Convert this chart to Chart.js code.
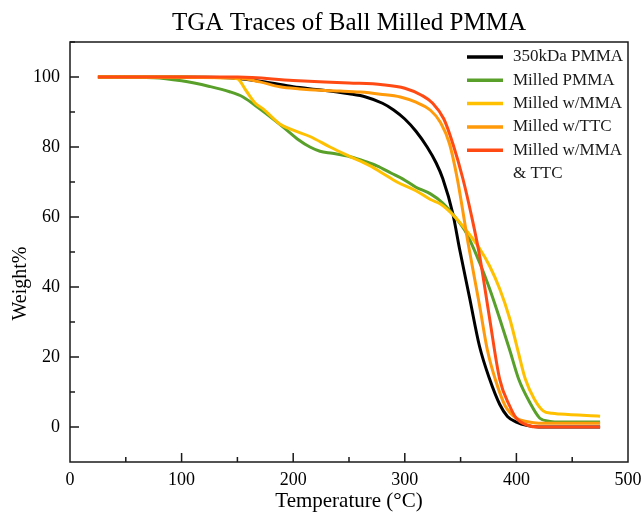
<!DOCTYPE html>
<html>
<head>
<meta charset="utf-8">
<script src="https://cdn.jsdelivr.net/npm/chart.js@4.4.1/dist/chart.umd.min.js"></script>
<style>
  html,body{margin:0;padding:0;background:#fff;}
  #wrap{width:642px;height:512px;}
</style>
</head>
<body>
<div id="wrap"><canvas id="tga" width="642" height="512"></canvas></div>
<script>
/* TGA traces */
const SERIES_LABELS = ["350kDa PMMA","Milled PMMA","Milled w/MMA","Milled w/TTC",["Milled w/MMA","& TTC"]];
const SERIES_COLORS = ["#000000","#58a02a","#ffc000","#ff9a0a","#ff4a14"];

const tBlack = [25,100,150,175,200,225,250,265,280,290,300,310,320,328,334,343,349,358,367,376,385,392,400,410,420,475];
const wBlack = [100,100,99.6,98.6,97.2,96.3,95.2,94.3,92.5,90.6,88,84.5,80,75.5,71,61,51,37,23,13.7,6.5,3,1.4,0.4,0,0];

const tGreen = [25,75,100,125,143,155,170,191,205,215,224,235,251,265,275,288,298,310,323,334,345,355,367,376,385,394,402,412,421,430,440,475];
const wGreen = [100,99.8,98.9,97.3,95.8,94.3,90.9,85.7,82,80,78.8,78.2,77.2,75.8,74.6,72.5,70.9,68.5,66.6,64,60,55.5,47,39.5,31,22,13.7,7,2.5,1.6,1.4,1.4];

const tYellow = [25,100,140,150,158,166,173,188,200,215,233,250,269,280,293,310,323,332,345,358,367,376,385,394,402,408,416,424,432,439,475];
const wYellow = [100,100,99.8,99.5,96,92.5,90.9,86.6,84.8,83,80,77.4,74.6,72.5,70,67.5,65,63.7,60,55,51,46,39.5,31,21,13.7,8,4.6,3.9,3.7,3.1];

const tOrange = [25,150,170,188,206,224,242,260,278,296,310,323,332,340,347,357,367,374,381,390,400,410,420,475];
const wOrange = [100,99.7,98.6,97.2,96.6,96.2,96,95.7,95.1,94.3,92.8,90.5,87,81,71,52,34.7,22,13.7,6,2.5,1.5,1.1,1.1];

const tRed = [25,150,200,250,280,300,315,325,335,343,352,360,367,376,385,394,400,410,420,475];
const wRed = [100,100,99,98.3,97.8,96.8,94.8,92.5,88,81,71,60,49,31,13.7,6,2.5,0.5,0,0];

const X_TICKS = [0,100,200,300,400,500];
const Y_TICKS = [0,20,40,60,80,100];

const SERIF = "'Liberation Serif','DejaVu Serif',serif";
const pairs = (t,w)=>t.map((x,i)=>({x:x,y:w[i]}));
const allT = [tBlack,tGreen,tYellow,tOrange,tRed];
const allW = [wBlack,wGreen,wYellow,wOrange,wRed];

/* frame + inward ticks, drawn from the scales */
const framePlugin = {
  id:"frame",
  afterDraw(chart){
    const {ctx, chartArea:a, scales:{x, y}} = chart;
    ctx.save();
    ctx.strokeStyle = "#1a1a1a";
    ctx.lineWidth = 1.5;
    ctx.strokeRect(a.left, a.top, a.right-a.left, a.bottom-a.top);
    ctx.beginPath();
    for(let v=50; v<500; v+=50){
      const px = x.getPixelForValue(v), len = (v%100===0) ? 9 : 5;
      ctx.moveTo(px, a.bottom); ctx.lineTo(px, a.bottom-len);
    }
    for(let v=0; v<=110; v+=10){
      const py = y.getPixelForValue(v), len = (v%20===0) ? 9 : 5;
      ctx.moveTo(a.left, py); ctx.lineTo(a.left+len, py);
    }
    ctx.stroke();
    // y axis title, sits a bit below centre in the reference
    ctx.fillStyle = "#000";
    ctx.font = "20px " + SERIF;
    ctx.textAlign = "center"; ctx.textBaseline = "middle";
    ctx.translate(21, y.getPixelForValue(41));
    ctx.rotate(-Math.PI/2);
    ctx.fillText("Weight%", 0, 0);
    ctx.restore();
  }
};

/* legend inside the top-right corner of the plot */
const legendPlugin = {
  id:"insideLegend",
  afterDatasetsDraw(chart){
    const ctx = chart.ctx;
    ctx.save();
    ctx.font = "17px " + SERIF;
    ctx.textBaseline = "middle";
    ctx.textAlign = "left";
    let row = 57;
    chart.data.datasets.forEach(ds=>{
      ctx.strokeStyle = ds.borderColor; ctx.lineWidth = 3.5;
      ctx.beginPath(); ctx.moveTo(467,row); ctx.lineTo(503,row); ctx.stroke();
      ctx.fillStyle = "#1a1a1a";
      const lines = Array.isArray(ds.label) ? ds.label : [ds.label];
      lines.forEach((t,k)=>{ ctx.fillText(t, 513, row + k*23.3); });
      row += 23.3*lines.length;
    });
    ctx.restore();
  }
};

new Chart(document.getElementById("tga"), {
  type:"line",
  data:{ datasets: SERIES_LABELS.map((lab,i)=>({
    label:lab, data:pairs(allT[i], allW[i]), order:SERIES_LABELS.length-i,
    borderColor:SERIES_COLORS[i], backgroundColor:SERIES_COLORS[i],
    borderWidth:3, pointRadius:0, fill:false, cubicInterpolationMode:"monotone"
  })) },
  options:{
    responsive:false, animation:false,
    layout:{ padding:{left:0, right:14, top:0, bottom:0} },
    plugins:{
      legend:{display:false}, tooltip:{enabled:false},
      title:{ display:true, fullSize:false, text:"TGA Traces of Ball Milled PMMA", color:"#000",
        font:{family:SERIF, size:25, weight:"normal"}, padding:{top:8, bottom:4} }
    },
    scales:{
      x:{ type:"linear", min:0, max:500,
        afterBuildTicks:s=>{ s.ticks = X_TICKS.map(v=>({value:v})); },
        afterFit:s=>{ s.height = 50; s.paddingLeft = 0; s.paddingRight = 0; },
        grid:{display:false, drawTicks:false}, border:{display:false},
        ticks:{ color:"#000", font:{family:SERIF, size:18}, padding:7, maxRotation:0 },
        title:{ display:true, text:"Temperature (°C)", color:"#000", font:{family:SERIF, size:21, lineHeight:1}, padding:{top:0, bottom:0} } },
      y:{ type:"linear", min:-10, max:110,
        afterBuildTicks:s=>{ s.ticks = Y_TICKS.map(v=>({value:v})); },
        afterFit:s=>{ s.width = 70; s.paddingTop = 0; s.paddingBottom = 0; },
        grid:{display:false, drawTicks:false}, border:{display:false},
        ticks:{ color:"#000", font:{family:SERIF, size:18}, padding:10 } }
    }
  },
  plugins:[framePlugin, legendPlugin]
});
</script>
</body>
</html>
